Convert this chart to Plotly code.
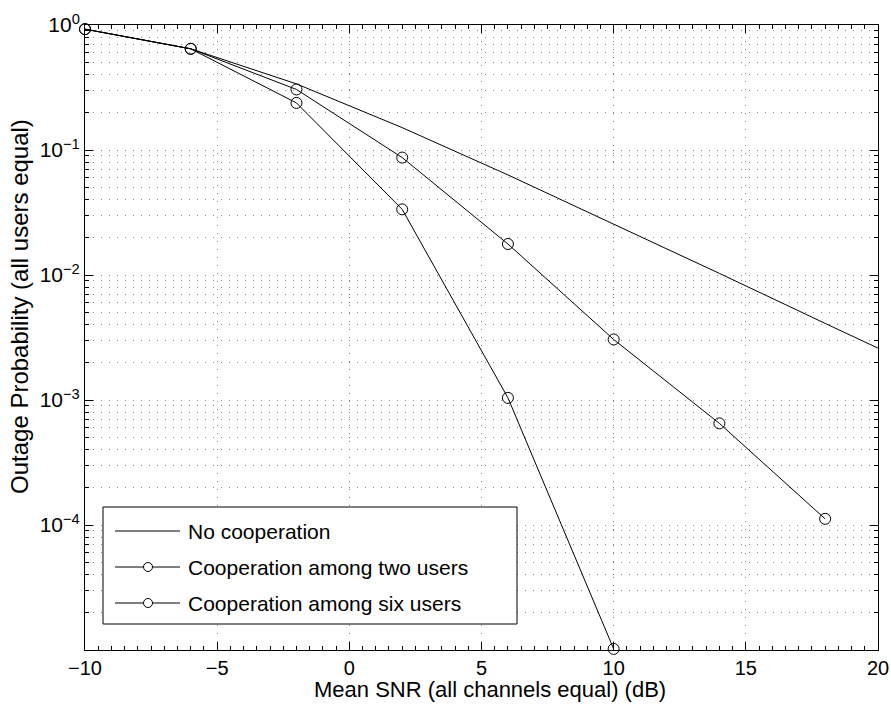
import plotly.graph_objects as go

# ---- data ----
x_nocoop = [-10, -6, -2, 2, 6, 10, 14, 18, 20]
p_nocoop = [0.926, 0.645, 0.338, 0.151, 0.0632, 0.0257, 0.0103, 0.0041, 0.0026]

x_two = [-10, -6, -2, 2, 6, 10, 14, 18]
p_two = [0.926, 0.645, 0.305, 0.087, 0.0177, 0.00305, 0.00065, 0.000112]

x_six = [-10, -6, -2, 2, 6, 10]
p_six = [0.926, 0.645, 0.238, 0.0335, 0.00104, 0.0000102]

series_names = ["No cooperation", "Cooperation among two users", "Cooperation among six users"]

x_ticks = [-10, -5, 0, 5, 10, 15, 20]
y_ticks = [1, 0.1, 0.01, 0.001, 0.0001]
y_ticktext = ["10<sup>0</sup>", "10<sup>\u22121</sup>", "10<sup>\u22122</sup>",
              "10<sup>\u22123</sup>", "10<sup>\u22124</sup>"]

x_title = "Mean SNR (all channels equal) (dB)"
y_title = "Outage Probability (all users equal)"

FONT = "Liberation Sans, Arial, Helvetica, sans-serif"
W, H = 891, 704
L, R, T, B = 85, 13, 25, 54
PW, PH = W - L - R, H - T - B

fig = go.Figure()
line = dict(color="black", width=1)
fig.add_trace(go.Scatter(x=x_nocoop, y=p_nocoop, mode="lines", line=line,
                         name=series_names[0], showlegend=False, cliponaxis=False))
fig.add_trace(go.Scatter(x=x_two, y=p_two, mode="lines+markers", line=line,
                         marker=dict(symbol="circle-open", size=11, color="black",
                                     line=dict(width=1, color="black")),
                         name=series_names[1], showlegend=False, cliponaxis=False))
fig.add_trace(go.Scatter(x=x_six, y=p_six, mode="lines+markers", line=line,
                         marker=dict(symbol="circle-open", size=11, color="black",
                                     line=dict(width=1, color="black")),
                         name=series_names[2], showlegend=False, cliponaxis=False))

minor_y = [k * 10.0 ** e for e in range(-5, 0) for k in range(2, 10)]

grid_col = "#8c8c8c"
grid_dash = "1px,7px"

fig.update_xaxes(
    range=[-10, 20], tickmode="array", tickvals=x_ticks, automargin=False,
    ticks="inside", ticklen=8, tickwidth=1, tickcolor="black",
    showline=True, linecolor="black", linewidth=1, mirror="allticks",
    showgrid=True, gridcolor=grid_col, griddash=grid_dash, gridwidth=1,
    zeroline=False,
    minor=dict(dtick=0.5, tick0=0, ticks="inside", ticklen=4, tickcolor="black",
               showgrid=False),
    tickfont=dict(family=FONT, size=20, color="black"),
)
fig.update_yaxes(
    type="log", range=[-5, 0], tickmode="array", tickvals=y_ticks, ticktext=y_ticktext,
    automargin=False,
    ticks="inside", ticklen=8, tickwidth=1, tickcolor="black",
    showline=True, linecolor="black", linewidth=1, mirror="allticks",
    showgrid=True, gridcolor=grid_col, griddash=grid_dash, gridwidth=1,
    zeroline=False,
    minor=dict(tickmode="array", tickvals=minor_y, ticks="inside", ticklen=4,
               tickcolor="black", showgrid=True, gridcolor=grid_col,
               griddash=grid_dash, gridwidth=1),
    tickfont=dict(family=FONT, size=21, color="black"),
)

# ---- pixel -> paper helpers for layout elements ----
def px(xp):
    return (xp - L) / PW

def py(yp):
    return (H - B - yp) / PH

shapes = []
annotations = []

# axis titles (placed as in the reference)
annotations.append(dict(text=x_title, xref="paper", yref="paper",
                        x=px(490), y=py(689), xanchor="center", yanchor="middle",
                        showarrow=False, font=dict(family=FONT, size=22, color="black")))
annotations.append(dict(text=y_title, xref="paper", yref="paper", textangle=-90,
                        x=px(19), y=py(307), xanchor="center", yanchor="middle",
                        showarrow=False, font=dict(family=FONT, size=24, color="black")))

# custom legend (MATLAB style)
shapes.append(dict(type="rect", xref="paper", yref="paper",
                   x0=px(103), x1=px(517), y0=py(624), y1=py(507),
                   line=dict(color="black", width=1), fillcolor="white", layer="above"))
rows = [531, 567, 603]
has_marker = [False, True, True]
for name, ry, mk in zip(series_names, rows, has_marker):
    shapes.append(dict(type="line", xref="paper", yref="paper",
                       x0=px(115), x1=px(180), y0=py(ry), y1=py(ry),
                       line=dict(color="black", width=1), layer="above"))
    if mk:
        shapes.append(dict(type="circle", xref="paper", yref="paper",
                           x0=px(148 - 4.5), x1=px(148 + 4.5),
                           y0=py(ry + 4.5), y1=py(ry - 4.5),
                           line=dict(color="black", width=1), fillcolor="white",
                           layer="above"))
    annotations.append(dict(text=name, xref="paper", yref="paper",
                            x=px(186), y=py(ry), xanchor="left", yanchor="middle",
                            showarrow=False,
                            font=dict(family=FONT, size=21, color="black")))

fig.update_layout(
    width=W, height=H,
    margin=dict(l=L, r=R, t=T, b=B, pad=0, autoexpand=False),
    paper_bgcolor="white", plot_bgcolor="white",
    showlegend=False,
    shapes=shapes, annotations=annotations,
    font=dict(family=FONT, color="black"),
)

fig.write_html("out.html")
